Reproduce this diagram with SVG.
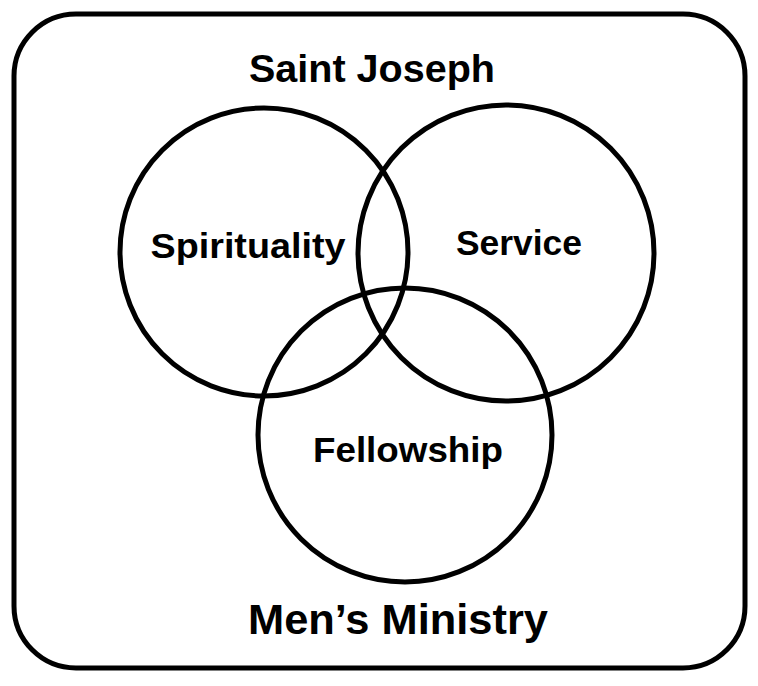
<svg xmlns="http://www.w3.org/2000/svg" width="758" height="686" viewBox="0 0 758 686">
<style>
.c{fill:none;stroke:#000;stroke-width:5}
.t{font-family:"Liberation Sans",Arial,sans-serif;font-weight:bold;fill:#000;text-anchor:middle}
</style>
<rect width="758" height="686" fill="#fff"/>
<g id="frame"><rect class="c" x="14" y="14" width="731" height="654" rx="62"/></g>
<g id="title"><text class="t" x="372" y="82" font-size="38" textLength="246" lengthAdjust="spacingAndGlyphs">Saint Joseph</text></g>
<g id="spirituality"><circle class="c" cx="264" cy="252" r="144"/><text class="t" x="248" y="258" font-size="35" textLength="195" lengthAdjust="spacingAndGlyphs">Spirituality</text></g>
<g id="service"><circle class="c" cx="506" cy="253" r="148"/><text class="t" x="519" y="255" font-size="35" textLength="126" lengthAdjust="spacingAndGlyphs">Service</text></g>
<g id="fellowship"><circle class="c" cx="405" cy="435" r="147"/><text class="t" x="408" y="462" font-size="35" textLength="190" lengthAdjust="spacingAndGlyphs">Fellowship</text></g>
<g id="subtitle"><text class="t" x="398" y="634" font-size="43" textLength="300" lengthAdjust="spacingAndGlyphs">Men’s Ministry</text></g>
<g id="connectors"/>
</svg>
